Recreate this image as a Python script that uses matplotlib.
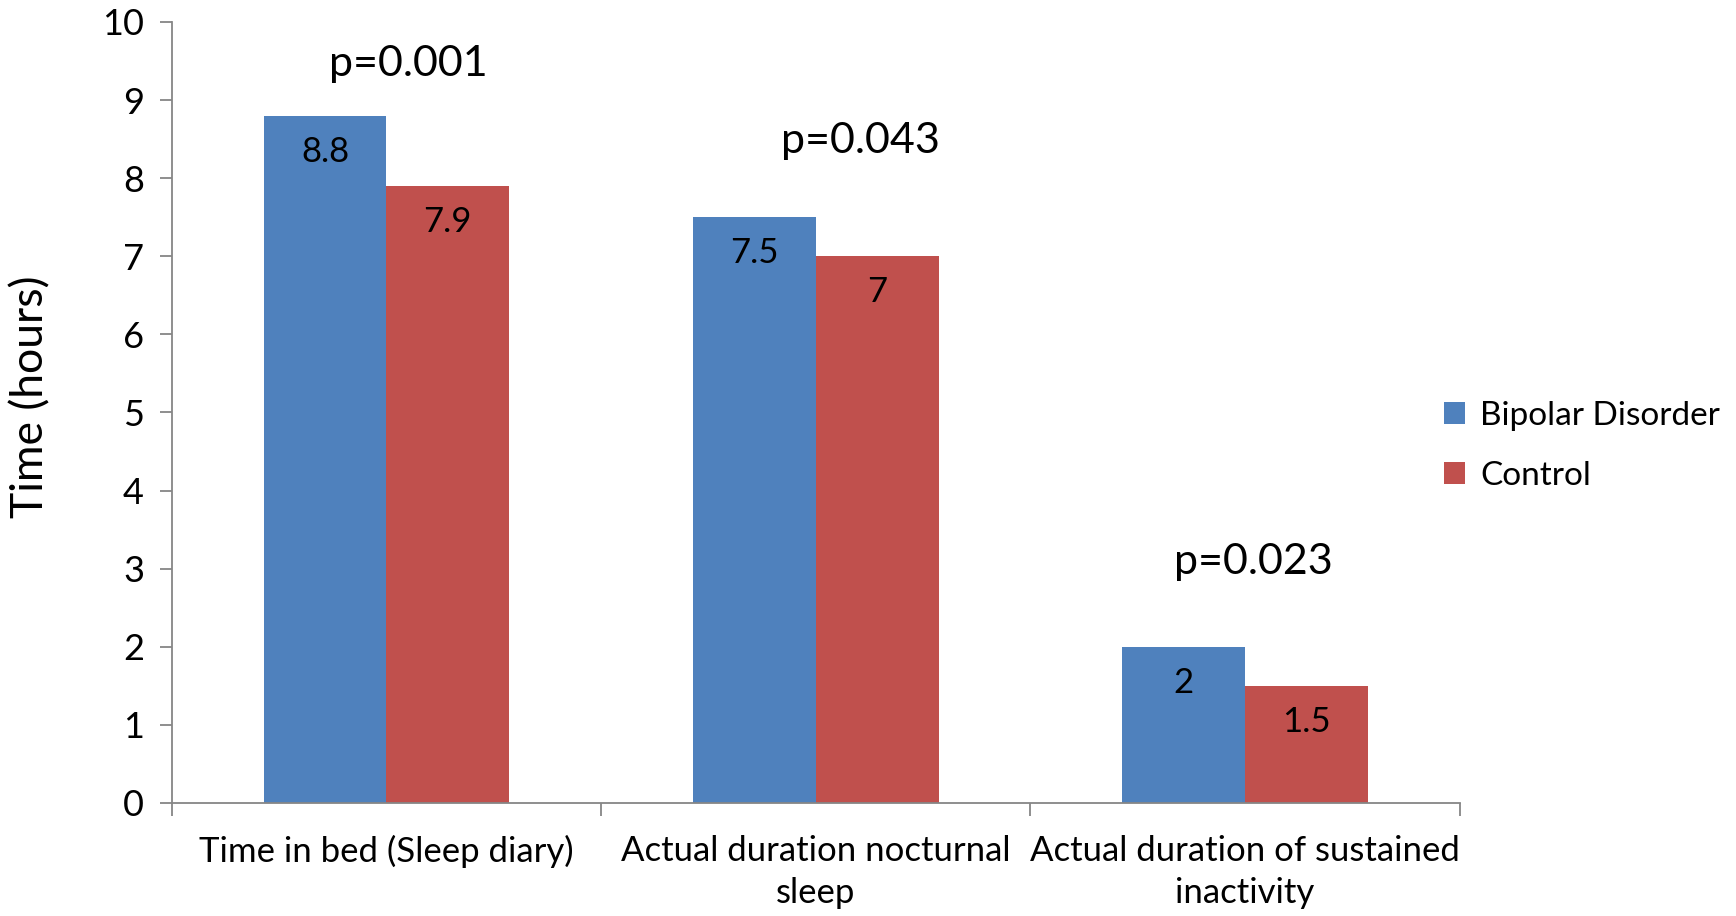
import numpy as np
import matplotlib.pyplot as plt

categories = ["Time in bed (Sleep diary)",
              "Actual duration nocturnal\nsleep",
              "Actual duration of sustained\ninactivity"]
bipolar = [8.8, 7.5, 2]
control = [7.9, 7, 1.5]
p_labels = ["p=0.001", "p=0.043", "p=0.023"]
# where the p-value text boxes sit (category offset, height in hours)
p_pos = [(0.05, 9.46), (1.105, 8.48), (2.02, 3.08)]

plt.rcParams['font.family'] = ['Lato', 'DejaVu Sans']
axis_col = '#868686'

fig = plt.figure(figsize=(17.36, 9.16), dpi=100)
ax = fig.add_axes([0.0989, 0.1234, 0.742, 0.8526])

x = np.arange(len(categories))
w = 0.286
b1 = ax.bar(x - w/2, bipolar, w, color='#4F81BD', label='Bipolar Disorder')
b2 = ax.bar(x + w/2, control, w, color='#C0504D', label='Control')

for bars, vals in ((b1, bipolar), (b2, control)):
    for rect, v in zip(bars, vals):
        ax.annotate(f"{v:g}", (rect.get_x() + rect.get_width()/2, v),
                    xytext=(0, -26), textcoords='offset points',
                    ha='center', va='center', fontsize=25)

for lab, (px, py) in zip(p_labels, p_pos):
    ax.text(px, py, lab, ha='center', va='center', fontsize=31)

ax.set_xlim(-0.5, 2.5)
ax.set_ylim(0, 10)
ax.set_yticks(range(0, 11))
ax.set_xticks(x)
ax.set_xticklabels(categories, fontsize=25, linespacing=1.4)
ax.tick_params(axis='x', length=0, pad=23)
ax.set_xticks([-0.5, 0.5, 1.5, 2.5], minor=True)
ax.tick_params(axis='x', which='minor', length=9, color=axis_col, width=1.3)
ax.tick_params(axis='y', length=9, color=axis_col, width=1.3, labelsize=26, pad=11)

for s in ('top', 'right'):
    ax.spines[s].set_visible(False)
for s in ('left', 'bottom'):
    ax.spines[s].set_color(axis_col)
    ax.spines[s].set_linewidth(1.3)

ax.set_ylabel("Time (hours)", fontsize=32)
ax.yaxis.set_label_coords(-0.093, 0.52)

fig.legend(handles=[b1, b2], loc='center left', bbox_to_anchor=(0.832, 0.513),
           frameon=False, fontsize=24, handlelength=0.63, handleheight=0.63,
           handletextpad=0.45, labelspacing=0.9, borderpad=0, borderaxespad=0)

fig.savefig('out.png', dpi=100)
